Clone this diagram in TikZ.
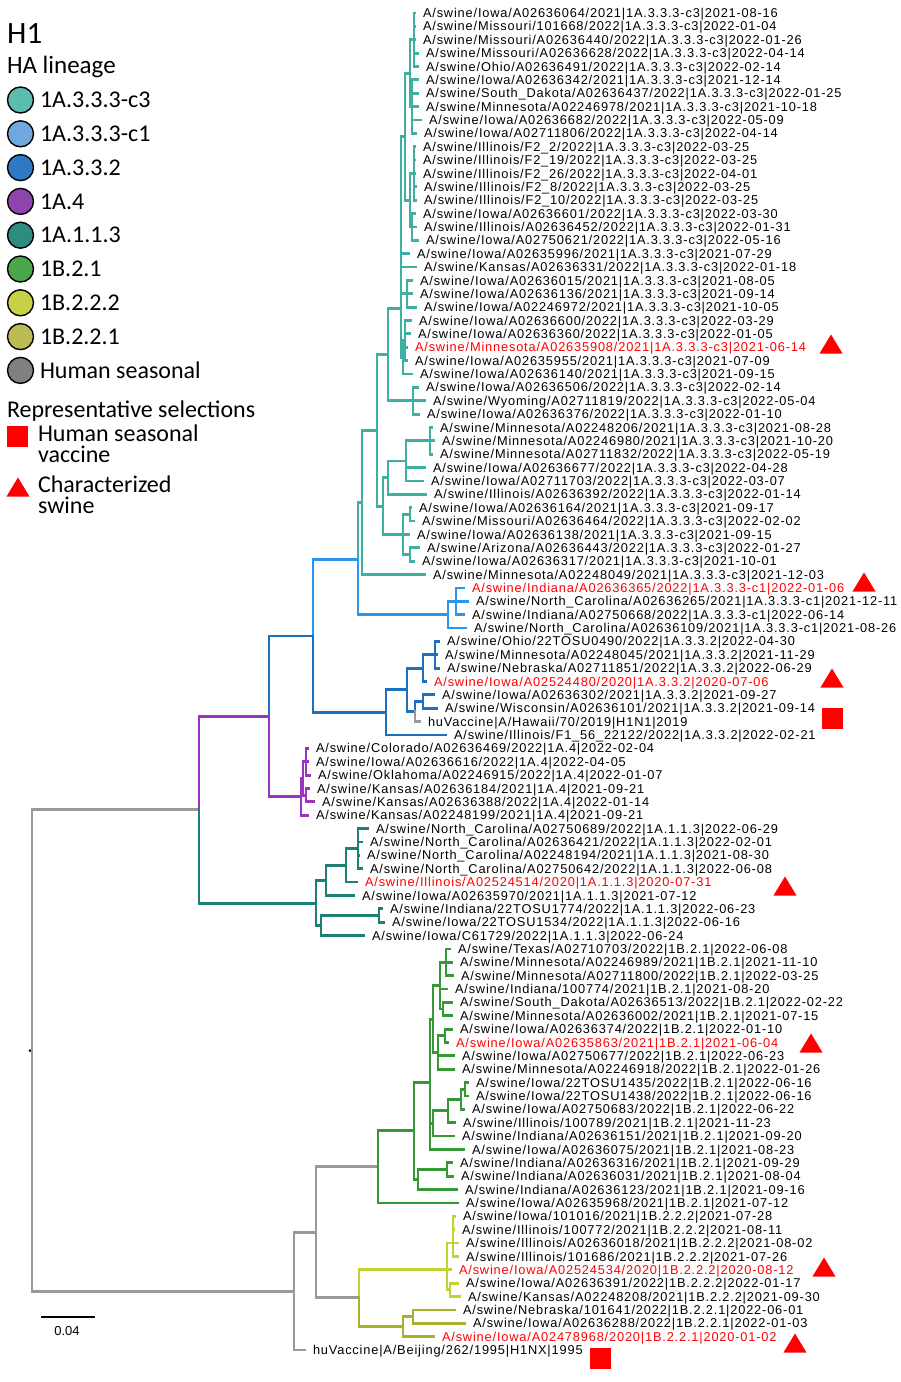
\documentclass[tikz,border=0pt]{standalone}
\usepackage{fontspec}
\setmainfont{Liberation Sans}
\newfontfamily\legfont{Carlito}
\newfontfamily\lblfont[LetterSpace=6.5]{Liberation Sans}
% tree colours
\definecolor{tA}{HTML}{3DB0A2}   % 1A.3.3.3-c3
\definecolor{tB}{HTML}{2B96EE}   % 1A.3.3.3-c1
\definecolor{tC}{HTML}{1E6FC0}   % 1A.3.3.2
\definecolor{tD}{HTML}{9B32C4}   % 1A.4
\definecolor{tE}{HTML}{1C8074}   % 1A.1.1.3
\definecolor{tF}{HTML}{359A35}   % 1B.2.1
\definecolor{tG}{HTML}{C3D232}   % 1B.2.2.2
\definecolor{tH}{HTML}{AAB02A}   % 1B.2.2.1
\definecolor{tI}{HTML}{999999}   % human seasonal
% legend colours
\definecolor{kA}{HTML}{5BBDB0}
\definecolor{kB}{HTML}{6FA8DC}
\definecolor{kC}{HTML}{2F78C4}
\definecolor{kD}{HTML}{8E44AD}
\definecolor{kE}{HTML}{2E8B80}
\definecolor{kF}{HTML}{4CA64C}
\definecolor{kG}{HTML}{C8D045}
\definecolor{kH}{HTML}{BBBB55}
\definecolor{kI}{HTML}{808080}
\tikzset{
  br/.style={line width=2.8pt, line cap=rect},
  lbl/.style={font=\lblfont\fontsize{12.8}{14}\selectfont, anchor=base west, inner sep=0pt, outer sep=0pt, yshift=-4.6pt},
  lblr/.style={lbl, text=red},
  leg/.style={font=\legfont\fontsize{24}{26}\selectfont, anchor=base west, inner sep=0pt, outer sep=0pt},
  legc/.style={draw=black, line width=1.4pt, circle, minimum size=26pt, inner sep=0pt},
  redsq/.style={fill=red, minimum size=21pt, inner sep=0pt, outer sep=0pt}
}
% leaf: name, colour, index, parent x, label x, text
\newcommand\tleaf[6]{\draw[br,#2] (#4,#3) -- ({#5-8},#3); \node[lbl] (#1) at (#5,#3) {#6};}
\newcommand\tleafr[6]{\draw[br,#2] (#4,#3) -- ({#5-8},#3); \node[lblr] (#1) at (#5,#3) {#6};}
% vertical: colour, x, i1, i2 ; horizontal: colour, x1, x2, i
\newcommand\vbr[4]{\draw[br,#1] (#2,#3) -- (#2,#4);}
\newcommand\hbr[4]{\draw[br,#1] (#2,#4) -- (#3,#4);}
\newcommand\redtri[3]{\fill[red] ({#2-11.5},{#3+9.5}) -- ({#2+11.5},{#3+9.5}) -- (#2,{#3-9.5}) -- cycle;}
\newcommand\twolines[2]{\vtop{\baselineskip=20.5pt\lineskiplimit=-100pt\lineskip=0pt\hbox{#1}\hbox{#2}}}
\begin{document}
\begin{tikzpicture}[x=1pt,y=-1pt]
\useasboundingbox (0,0) rectangle (900,1382);
\fill[white] (0,0) rectangle (900,1382);

% ---------------- legend ----------------
\node[font=\legfont\fontsize{31}{31}\selectfont, anchor=base west, inner sep=0pt] (title) at (7,43) {H1};
\node[leg, font=\legfont\fontsize{25}{26}\selectfont] (hal) at (7,73) {HA lineage};
\node[legc, fill=kA] (k1) at (20.5,100) {};
\node[legc, fill=kB] (k2) at (20.5,133.8) {};
\node[legc, fill=kC] (k3) at (20.5,167.6) {};
\node[legc, fill=kD] (k4) at (20.5,201.4) {};
\node[legc, fill=kE] (k5) at (20.5,235.2) {};
\node[legc, fill=kF] (k6) at (20.5,269) {};
\node[legc, fill=kG] (k7) at (20.5,302.8) {};
\node[legc, fill=kH] (k8) at (20.5,336.6) {};
\node[legc, fill=kI] (k9) at (20.5,370.4) {};
\node[leg] (t1) at (40,107.7) {1A.3.3.3-c3};
\node[leg] (t2) at (40,141.5) {1A.3.3.3-c1};
\node[leg] (t3) at (40,175.3) {1A.3.3.2};
\node[leg] (t4) at (40,209.1) {1A.4};
\node[leg] (t5) at (40,242.9) {1A.1.1.3};
\node[leg] (t6) at (40,276.7) {1B.2.1};
\node[leg] (t7) at (40,310.5) {1B.2.2.2};
\node[leg] (t8) at (40,344.3) {1B.2.2.1};
\node[leg] (t9) at (40,378.1) {Human seasonal};
\node[leg] (rep) at (7,417) {Representative selections};
\node[redsq] (ksq) at (17.5,436) {};
\node[leg] (hs) at (38,441.5) {\twolines{Human seasonal}{vaccine}};
\redtri{ktri}{18}{487}
\node[leg] (cs) at (38,492.5) {\twolines{Characterized}{swine}};

% ---------------- scale bar ----------------
\coordinate (sb1) at (41,1317);
\coordinate (sb2) at (95,1317);
\draw[line width=2pt] (sb1) -- (sb2);
\node[font=\fontsize{13}{14}\selectfont, inner sep=0pt] (sbl) at (67,1331) {0.04};

% ---------------- markers ----------------
\redtri{m1}{831}{344}
\redtri{m2}{864}{582}
\redtri{m3}{832}{678}
\redtri{m4}{785}{886}
\redtri{m5}{811}{1043}
\redtri{m6}{824}{1267}
\redtri{m7}{795}{1343}
\node[redsq] (sq1) at (832,718) {};
\node[redsq] (sq2) at (600,1358) {};

% ---------------- tree (y in leaf-index units) ----------------
\begin{scope}[y=-13.37pt, yshift=0.37pt]
\fill (30,78.6) circle (1.5pt);
% root and backbone
\vbr{tI}{32}{60.6}{96.6}
\hbr{tI}{32}{199}{60.6}
\hbr{tI}{32}{294}{96.6}
\vbr{tD}{199}{53.6}{60.6}
\vbr{tE}{199}{60.6}{67.6}
\hbr{tD}{199}{269}{53.6}
\hbr{tE}{199}{316}{67.6}
\vbr{tC}{269}{47.6}{53.6}
\vbr{tD}{269}{53.6}{59.6}
\hbr{tC}{269}{313}{47.6}
\hbr{tD}{269}{301}{59.6}
\vbr{tB}{313}{41.9}{47.6}
\vbr{tC}{313}{47.6}{53.3}
\hbr{tB}{313}{358}{41.9}
\hbr{tC}{313}{386}{53.3}
\vbr{tA}{358}{37.6}{41.9}
\vbr{tB}{358}{41.9}{46}
\hbr{tA}{358}{362}{37.6}
\hbr{tB}{358}{448}{46}

% ---- 1A.3.3.3-c3 ----
\vbr{tA}{362}{32.2}{43}
\hbr{tA}{362}{377}{32.2}
\vbr{tA}{377}{26.55}{37.9}
\hbr{tA}{377}{388}{26.55}
\hbr{tA}{377}{383}{37.9}
\vbr{tA}{388}{23.1}{30}
\hbr{tA}{388}{401}{23.1}
\hbr{tA}{388}{413}{30}
\vbr{tA}{401}{10.25}{26.75}
\hbr{tA}{401}{405}{10.25}
\hbr{tA}{401}{407}{22}
\hbr{tA}{401}{403}{26.75}
\vbr{tA}{405}{5.5}{15}
\hbr{tA}{405}{410}{5.5}
\hbr{tA}{405}{410}{15}
\vbr{tA}{410}{3}{8}
\hbr{tA}{410}{414}{3}
\hbr{tA}{410}{412}{8}
\vbr{tA}{414}{1}{5}
\vbr{tA}{412}{6}{10}
\vbr{tA}{410}{13}{17}
\hbr{tA}{410}{414}{13}
\hbr{tA}{410}{412}{17}
\vbr{tA}{414}{11}{15}
\vbr{tA}{412}{16}{18}
\vbr{tA}{407}{21}{23}
\vbr{tA}{403}{25.5}{28}
\hbr{tA}{403}{405}{25.5}
\vbr{tA}{405}{24}{27}
\vbr{tA}{413}{29}{31}
\vbr{tA}{383}{35.75}{40}
\hbr{tA}{383}{388}{35.75}
\hbr{tA}{383}{403}{40}
\vbr{tA}{388}{34.5}{37}
\hbr{tA}{388}{406}{34.5}
\vbr{tA}{406}{33}{36}
\hbr{tA}{406}{430}{33}
\vbr{tA}{430}{32}{34}
\vbr{tA}{403}{38.5}{41.5}
\hbr{tA}{403}{410}{38.5}
\hbr{tA}{403}{410}{41.5}
\vbr{tA}{410}{38}{39}
\vbr{tA}{410}{41}{42}
\tleaf{l1}{tA}{1}{414}{423}{A/swine/Iowa/A02636064/2021|1A.3.3.3-c3|2021-08-16}
\tleaf{l2}{tA}{2}{414}{423}{A/swine/Missouri/101668/2022|1A.3.3.3-c3|2022-01-04}
\tleaf{l3}{tA}{3}{414}{423}{A/swine/Missouri/A02636440/2022|1A.3.3.3-c3|2022-01-26}
\tleaf{l4}{tA}{4}{414}{426}{A/swine/Missouri/A02636628/2022|1A.3.3.3-c3|2022-04-14}
\tleaf{l5}{tA}{5}{414}{426}{A/swine/Ohio/A02636491/2022|1A.3.3.3-c3|2022-02-14}
\tleaf{l6}{tA}{6}{412}{426}{A/swine/Iowa/A02636342/2021|1A.3.3.3-c3|2021-12-14}
\tleaf{l7}{tA}{7}{412}{426}{A/swine/South\_Dakota/A02636437/2022|1A.3.3.3-c3|2022-01-25}
\tleaf{l8}{tA}{8}{412}{426}{A/swine/Minnesota/A02246978/2021|1A.3.3.3-c3|2021-10-18}
\tleaf{l9}{tA}{9}{412}{429}{A/swine/Iowa/A02636682/2022|1A.3.3.3-c3|2022-05-09}
\tleaf{l10}{tA}{10}{412}{424}{A/swine/Iowa/A02711806/2022|1A.3.3.3-c3|2022-04-14}
\tleaf{l11}{tA}{11}{414}{423}{A/swine/Illinois/F2\_2/2022|1A.3.3.3-c3|2022-03-25}
\tleaf{l12}{tA}{12}{414}{423}{A/swine/Illinois/F2\_19/2022|1A.3.3.3-c3|2022-03-25}
\tleaf{l13}{tA}{13}{414}{423}{A/swine/Illinois/F2\_26/2022|1A.3.3.3-c3|2022-04-01}
\tleaf{l14}{tA}{14}{414}{424}{A/swine/Illinois/F2\_8/2022|1A.3.3.3-c3|2022-03-25}
\tleaf{l15}{tA}{15}{414}{424}{A/swine/Illinois/F2\_10/2022|1A.3.3.3-c3|2022-03-25}
\tleaf{l16}{tA}{16}{412}{423}{A/swine/Iowa/A02636601/2022|1A.3.3.3-c3|2022-03-30}
\tleaf{l17}{tA}{17}{412}{424}{A/swine/Illinois/A02636452/2022|1A.3.3.3-c3|2022-01-31}
\tleaf{l18}{tA}{18}{412}{426}{A/swine/Iowa/A02750621/2022|1A.3.3.3-c3|2022-05-16}
\tleaf{l19}{tA}{19}{401}{417}{A/swine/Iowa/A02635996/2021|1A.3.3.3-c3|2021-07-29}
\tleaf{l20}{tA}{20}{401}{424}{A/swine/Kansas/A02636331/2022|1A.3.3.3-c3|2022-01-18}
\tleaf{l21}{tA}{21}{407}{420}{A/swine/Iowa/A02636015/2021|1A.3.3.3-c3|2021-08-05}
\tleaf{l22}{tA}{22}{407}{420}{A/swine/Iowa/A02636136/2021|1A.3.3.3-c3|2021-09-14}
\tleaf{l23}{tA}{23}{407}{424}{A/swine/Iowa/A02246972/2021|1A.3.3.3-c3|2021-10-05}
\tleaf{l24}{tA}{24}{405}{419}{A/swine/Iowa/A02636600/2022|1A.3.3.3-c3|2022-03-29}
\tleaf{l25}{tA}{25}{405}{418}{A/swine/Iowa/A02636360/2022|1A.3.3.3-c3|2022-01-05}
\tleafr{l26}{tA}{26}{405}{415}{A/swine/Minnesota/A02635908/2021|1A.3.3.3-c3|2021-06-14}
\tleaf{l27}{tA}{27}{405}{415}{A/swine/Iowa/A02635955/2021|1A.3.3.3-c3|2021-07-09}
\tleaf{l28}{tA}{28}{403}{420}{A/swine/Iowa/A02636140/2021|1A.3.3.3-c3|2021-09-15}
\tleaf{l29}{tA}{29}{413}{426}{A/swine/Iowa/A02636506/2022|1A.3.3.3-c3|2022-02-14}
\tleaf{l30}{tA}{30}{413}{433}{A/swine/Wyoming/A02711819/2022|1A.3.3.3-c3|2022-05-04}
\tleaf{l31}{tA}{31}{413}{427}{A/swine/Iowa/A02636376/2022|1A.3.3.3-c3|2022-01-10}
\tleaf{l32}{tA}{32}{430}{440}{A/swine/Minnesota/A02248206/2021|1A.3.3.3-c3|2021-08-28}
\tleaf{l33}{tA}{33}{430}{442}{A/swine/Minnesota/A02246980/2021|1A.3.3.3-c3|2021-10-20}
\tleaf{l34}{tA}{34}{430}{440}{A/swine/Minnesota/A02711832/2022|1A.3.3.3-c3|2022-05-19}
\tleaf{l35}{tA}{35}{406}{433}{A/swine/Iowa/A02636677/2022|1A.3.3.3-c3|2022-04-28}
\tleaf{l36}{tA}{36}{406}{431}{A/swine/Iowa/A02711703/2022|1A.3.3.3-c3|2022-03-07}
\tleaf{l37}{tA}{37}{388}{434}{A/swine/Illinois/A02636392/2022|1A.3.3.3-c3|2022-01-14}
\tleaf{l38}{tA}{38}{410}{419}{A/swine/Iowa/A02636164/2021|1A.3.3.3-c3|2021-09-17}
\tleaf{l39}{tA}{39}{410}{422}{A/swine/Missouri/A02636464/2022|1A.3.3.3-c3|2022-02-02}
\tleaf{l40}{tA}{40}{403}{417}{A/swine/Iowa/A02636138/2021|1A.3.3.3-c3|2021-09-15}
\tleaf{l41}{tA}{41}{410}{427}{A/swine/Arizona/A02636443/2022|1A.3.3.3-c3|2022-01-27}
\tleaf{l42}{tA}{42}{410}{422}{A/swine/Iowa/A02636317/2021|1A.3.3.3-c3|2021-10-01}
\tleaf{l43}{tA}{43}{362}{433}{A/swine/Minnesota/A02248049/2021|1A.3.3.3-c3|2021-12-03}

% ---- 1A.3.3.3-c1 ----
\vbr{tB}{448}{45}{47}
\hbr{tB}{448}{456}{45}
\vbr{tB}{456}{44}{46}
\tleafr{l44}{tB}{44}{456}{472}{A/swine/Indiana/A02636365/2022|1A.3.3.3-c1|2022-01-06}
\tleaf{l45}{tB}{45}{456}{476}{A/swine/North\_Carolina/A02636265/2021|1A.3.3.3-c1|2021-12-11}
\tleaf{l46}{tB}{46}{456}{472}{A/swine/Indiana/A02750668/2022|1A.3.3.3-c1|2022-06-14}
\tleaf{l47}{tB}{47}{448}{474}{A/swine/North\_Carolina/A02636109/2021|1A.3.3.3-c1|2021-08-26}

% ---- 1A.3.3.2 ----
\vbr{tC}{386}{51.6}{55}
\hbr{tC}{386}{407}{51.6}
\vbr{tC}{407}{50}{53.25}
\hbr{tC}{407}{423}{50}
\hbr{tC}{407}{415}{53.25}
\vbr{tC}{423}{49}{51}
\hbr{tC}{423}{435}{49}
\vbr{tC}{435}{48}{50}
\vbr{tC}{415}{52.5}{53.25}
\vbr{tI}{415}{53.25}{54}
\hbr{tC}{415}{423}{52.5}
\vbr{tC}{423}{52}{53}
\tleaf{l48}{tC}{48}{435}{447}{A/swine/Ohio/22TOSU0490/2022|1A.3.3.2|2022-04-30}
\tleaf{l49}{tC}{49}{435}{445}{A/swine/Minnesota/A02248045/2021|1A.3.3.2|2021-11-29}
\tleaf{l50}{tC}{50}{435}{447}{A/swine/Nebraska/A02711851/2022|1A.3.3.2|2022-06-29}
\tleafr{l51}{tC}{51}{423}{434}{A/swine/Iowa/A02524480/2020|1A.3.3.2|2020-07-06}
\tleaf{l52}{tC}{52}{423}{442}{A/swine/Iowa/A02636302/2021|1A.3.3.2|2021-09-27}
\tleaf{l53}{tC}{53}{423}{445}{A/swine/Wisconsin/A02636101/2021|1A.3.3.2|2021-09-14}
\tleaf{l54}{tI}{54}{415}{428}{huVaccine|A/Hawaii/70/2019|H1N1|2019}
\tleaf{l55}{tC}{55}{386}{454}{A/swine/Illinois/F1\_56\_22122/2022|1A.3.3.2|2022-02-21}

% ---- 1A.4 ----
\vbr{tD}{301}{58.25}{61}
\hbr{tD}{301}{303}{58.25}
\vbr{tD}{303}{57}{59.5}
\hbr{tD}{303}{306}{57}
\hbr{tD}{303}{306}{59.5}
\vbr{tD}{306}{56}{58}
\vbr{tD}{306}{59}{60}
\tleaf{l56}{tD}{56}{306}{316}{A/swine/Colorado/A02636469/2022|1A.4|2022-02-04}
\tleaf{l57}{tD}{57}{306}{316}{A/swine/Iowa/A02636616/2022|1A.4|2022-04-05}
\tleaf{l58}{tD}{58}{306}{318}{A/swine/Oklahoma/A02246915/2022|1A.4|2022-01-07}
\tleaf{l59}{tD}{59}{306}{317}{A/swine/Kansas/A02636184/2021|1A.4|2021-09-21}
\tleaf{l60}{tD}{60}{306}{322}{A/swine/Kansas/A02636388/2022|1A.4|2022-01-14}
\tleaf{l61}{tD}{61}{301}{316}{A/swine/Kansas/A02248199/2021|1A.4|2021-09-21}

% ---- 1A.1.1.3 ----
\vbr{tE}{316}{65.9}{69.25}
\hbr{tE}{316}{326}{65.9}
\hbr{tE}{316}{321}{69.25}
\vbr{tE}{326}{64.75}{67}
\hbr{tE}{326}{346}{64.75}
\vbr{tE}{346}{63.5}{66}
\hbr{tE}{346}{358}{63.5}
\vbr{tE}{358}{62}{65}
\vbr{tE}{321}{68.5}{70}
\hbr{tE}{321}{379}{68.5}
\vbr{tE}{379}{68}{69}
\tleaf{l62}{tE}{62}{358}{376}{A/swine/North\_Carolina/A02750689/2022|1A.1.1.3|2022-06-29}
\tleaf{l63}{tE}{63}{358}{370}{A/swine/North\_Carolina/A02636421/2022|1A.1.1.3|2022-02-01}
\tleaf{l64}{tE}{64}{358}{367}{A/swine/North\_Carolina/A02248194/2021|1A.1.1.3|2021-08-30}
\tleaf{l65}{tE}{65}{358}{370}{A/swine/North\_Carolina/A02750642/2022|1A.1.1.3|2022-06-08}
\tleafr{l66}{tE}{66}{346}{365}{A/swine/Illinois/A02524514/2020|1A.1.1.3|2020-07-31}
\tleaf{l67}{tE}{67}{326}{362}{A/swine/Iowa/A02635970/2021|1A.1.1.3|2021-07-12}
\tleaf{l68}{tE}{68}{379}{390}{A/swine/Indiana/22TOSU1774/2022|1A.1.1.3|2022-06-23}
\tleaf{l69}{tE}{69}{379}{392}{A/swine/Iowa/22TOSU1534/2022|1A.1.1.3|2022-06-16}
\tleaf{l70}{tE}{70}{321}{372}{A/swine/Iowa/C61729/2022|1A.1.1.3|2022-06-24}

% ---- lower backbone ----
\vbr{tI}{294}{92.2}{101}
\hbr{tI}{294}{316}{92.2}
\vbr{tI}{316}{87.25}{97.1}
\hbr{tI}{316}{378}{87.25}
\hbr{tI}{316}{359}{97.1}

% ---- 1B.2.1 ----
\vbr{tF}{378}{84.6}{90}
\hbr{tF}{378}{414}{84.6}
\vbr{tF}{414}{81}{88.25}
\hbr{tF}{414}{430}{81}
\hbr{tF}{414}{418}{88.25}
\vbr{tF}{418}{87.5}{89}
\hbr{tF}{418}{447}{87.5}
\vbr{tF}{447}{87}{88}
\vbr{tF}{430}{76.25}{86}
\hbr{tF}{430}{433}{76.25}
\hbr{tF}{430}{433}{84.05}
\vbr{tF}{433}{73.75}{78.75}
\hbr{tF}{433}{440}{73.75}
\hbr{tF}{433}{438}{78.75}
\vbr{tF}{440}{72}{75.5}
\hbr{tF}{440}{446}{72}
\hbr{tF}{440}{443}{75.5}
\vbr{tF}{446}{71}{73}
\vbr{tF}{443}{75}{76}
\vbr{tF}{438}{77.5}{80}
\hbr{tF}{438}{445}{77.5}
\vbr{tF}{445}{77}{78}
\vbr{tF}{433}{83.1}{85}
\hbr{tF}{433}{448}{83.1}
\vbr{tF}{448}{82.25}{84}
\hbr{tF}{448}{461}{82.25}
\vbr{tF}{461}{81.5}{83}
\hbr{tF}{461}{465}{81.5}
\vbr{tF}{465}{81}{82}
\tleaf{l71}{tF}{71}{446}{458}{A/swine/Texas/A02710703/2022|1B.2.1|2022-06-08}
\tleaf{l72}{tF}{72}{446}{460}{A/swine/Minnesota/A02246989/2021|1B.2.1|2021-11-10}
\tleaf{l73}{tF}{73}{446}{461}{A/swine/Minnesota/A02711800/2022|1B.2.1|2022-03-25}
\tleaf{l74}{tF}{74}{440}{455}{A/swine/Indiana/100774/2021|1B.2.1|2021-08-20}
\tleaf{l75}{tF}{75}{443}{460}{A/swine/South\_Dakota/A02636513/2022|1B.2.1|2022-02-22}
\tleaf{l76}{tF}{76}{443}{460}{A/swine/Minnesota/A02636002/2021|1B.2.1|2021-07-15}
\tleaf{l77}{tF}{77}{445}{460}{A/swine/Iowa/A02636374/2022|1B.2.1|2022-01-10}
\tleafr{l78}{tF}{78}{445}{456}{A/swine/Iowa/A02635863/2021|1B.2.1|2021-06-04}
\tleaf{l79}{tF}{79}{438}{462}{A/swine/Iowa/A02750677/2022|1B.2.1|2022-06-23}
\tleaf{l80}{tF}{80}{438}{462}{A/swine/Minnesota/A02246918/2022|1B.2.1|2022-01-26}
\tleaf{l81}{tF}{81}{465}{476}{A/swine/Iowa/22TOSU1435/2022|1B.2.1|2022-06-16}
\tleaf{l82}{tF}{82}{465}{476}{A/swine/Iowa/22TOSU1438/2022|1B.2.1|2022-06-16}
\tleaf{l83}{tF}{83}{461}{472}{A/swine/Iowa/A02750683/2022|1B.2.1|2022-06-22}
\tleaf{l84}{tF}{84}{448}{463}{A/swine/Illinois/100789/2021|1B.2.1|2021-11-23}
\tleaf{l85}{tF}{85}{433}{462}{A/swine/Indiana/A02636151/2021|1B.2.1|2021-09-20}
\tleaf{l86}{tF}{86}{430}{472}{A/swine/Iowa/A02636075/2021|1B.2.1|2021-08-23}
\tleaf{l87}{tF}{87}{447}{460}{A/swine/Indiana/A02636316/2021|1B.2.1|2021-09-29}
\tleaf{l88}{tF}{88}{447}{461}{A/swine/Indiana/A02636031/2021|1B.2.1|2021-08-04}
\tleaf{l89}{tF}{89}{418}{465}{A/swine/Indiana/A02636123/2021|1B.2.1|2021-09-16}
\tleaf{l90}{tF}{90}{378}{466}{A/swine/Iowa/A02635968/2021|1B.2.1|2021-07-12}

% ---- 1B.2.2 ----
\vbr{tG}{359}{95}{97.1}
\vbr{tH}{359}{97.1}{99.25}
\hbr{tG}{359}{447}{95}
\hbr{tH}{359}{403}{99.25}
\vbr{tG}{447}{93}{96.5}
\hbr{tG}{447}{453}{93}
\hbr{tG}{447}{450}{96.5}
\vbr{tG}{453}{91}{94}
\vbr{tG}{450}{96}{97}
\tleaf{l91}{tG}{91}{453}{463}{A/swine/Iowa/101016/2021|1B.2.2.2|2021-07-28}
\tleaf{l92}{tG}{92}{453}{462}{A/swine/Illinois/100772/2021|1B.2.2.2|2021-08-11}
\tleaf{l93}{tG}{93}{453}{466}{A/swine/Illinois/A02636018/2021|1B.2.2.2|2021-08-02}
\tleaf{l94}{tG}{94}{453}{466}{A/swine/Illinois/101686/2021|1B.2.2.2|2021-07-26}
\tleafr{l95}{tG}{95}{447}{459}{A/swine/Iowa/A02524534/2020|1B.2.2.2|2020-08-12}
\tleaf{l96}{tG}{96}{450}{466}{A/swine/Iowa/A02636391/2022|1B.2.2.2|2022-01-17}
\tleaf{l97}{tG}{97}{450}{468}{A/swine/Kansas/A02248208/2021|1B.2.2.2|2021-09-30}
\vbr{tH}{403}{98.5}{100}
\hbr{tH}{403}{413}{98.5}
\vbr{tH}{413}{98}{99}
\tleaf{l98}{tH}{98}{413}{463}{A/swine/Nebraska/101641/2022|1B.2.2.1|2022-06-01}
\tleaf{l99}{tH}{99}{413}{473}{A/swine/Iowa/A02636288/2022|1B.2.2.1|2022-01-03}
\tleafr{l100}{tH}{100}{403}{442}{A/swine/Iowa/A02478968/2020|1B.2.2.1|2020-01-02}
\tleaf{l101}{tI}{101}{294}{313}{huVaccine|A/Beijing/262/1995|H1NX|1995}
\end{scope}
\end{tikzpicture}
\end{document}
